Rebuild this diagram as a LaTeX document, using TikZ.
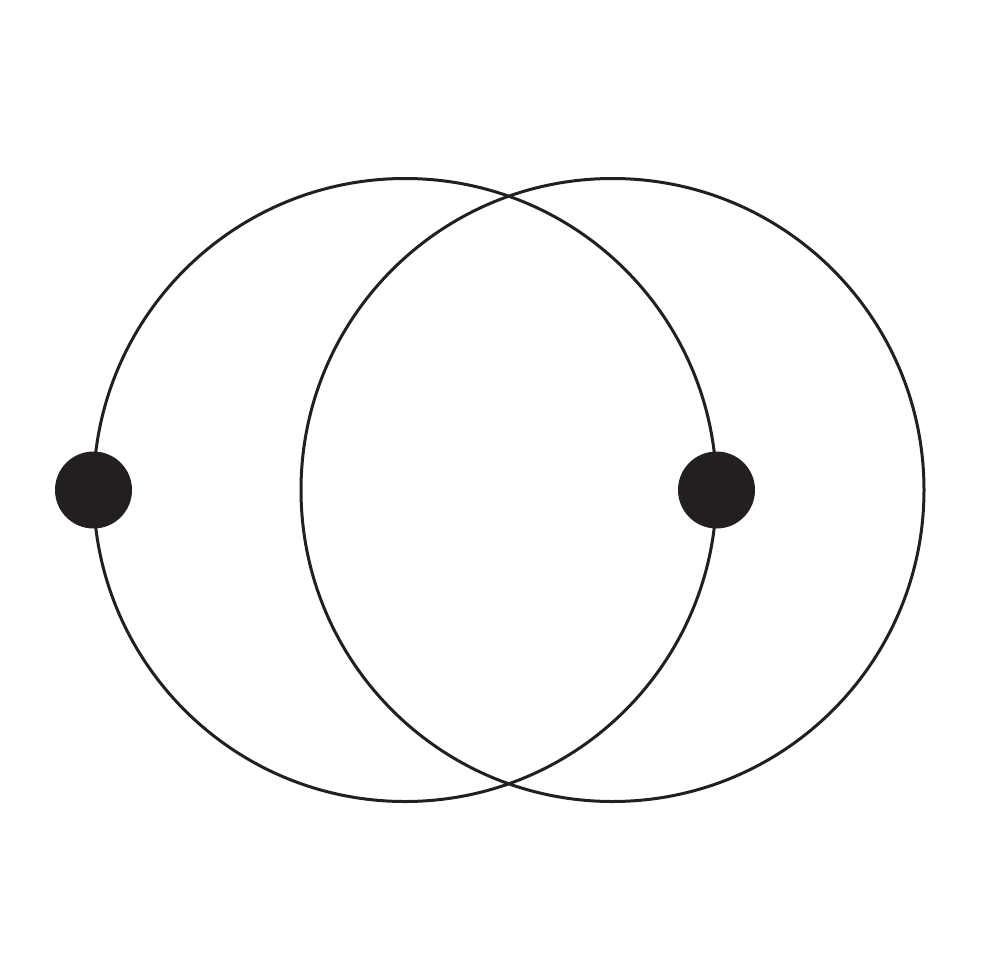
\documentclass[tikz,border=0pt]{standalone}
\definecolor{ink}{HTML}{231F20}
\tikzset{ring/.style={draw=ink,line width=3pt},
  dot/.style={circle,fill=ink,minimum size=77pt,inner sep=0pt}}
\begin{document}
\begin{tikzpicture}[x=1pt,y=-1pt]
\useasboundingbox (0,0) rectangle (980,980);
\coordinate (cl) at (405,490);
\coordinate (cr) at (612.5,490);
\draw[ring] (cl) circle[radius=311.5];
\draw[ring] (cr) circle[radius=311.5];
\node[dot] (d1) at (93.5,490) {};
\node[dot] (d2) at (716.5,490) {};
\end{tikzpicture}
\end{document}
